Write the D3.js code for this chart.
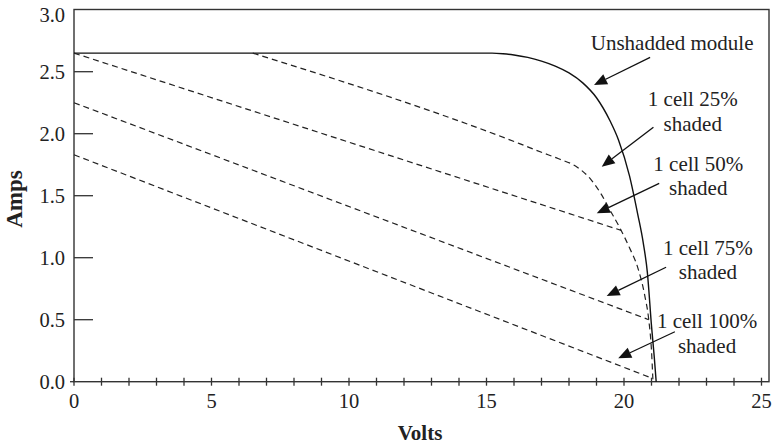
<!DOCTYPE html>
<html><head><meta charset="utf-8">
<script src="https://cdn.jsdelivr.net/npm/d3@7"></script>
<style>
html,body{margin:0;padding:0;background:#fff;}
svg text{font-family:"Liberation Serif","Times New Roman",serif;fill:#222;}
</style></head>
<body><svg id="c" width="773" height="445"></svg>
<script>
// ---- data ----
const xTickLabels = [0, 5, 10, 15, 20, 25];
const xMinorTicks = d3.range(0, 26, 1);
const yTickLabels = [0.0, 0.5, 1.0, 1.5, 2.0, 2.5, 3.0];
const unshaded = [[0,2.65],[15.2,2.65],[15.6,2.645],[16,2.635],[16.5,2.615],[17,2.585],[17.5,2.545],[18,2.49],[18.5,2.41],[19,2.29],[19.5,2.10],[19.8,1.95],[20.2,1.66],[20.5,1.35],[20.7,1.12],[20.85,0.88],[21.0,0.45],[21.1,0.2],[21.17,0]];
const shaded25 = [[6.5,2.65],[16.2,1.92],[17.0,1.85],[17.6,1.80],[18.3,1.73],[18.8,1.63],[19.15,1.52],[19.5,1.38],[19.85,1.24],[20.2,1.08],[20.5,0.92],[20.75,0.70],[20.9,0.50],[21.0,0.25],[21.05,0.02]];
const shaded50 = [[0,2.65],[19.9,1.22]];
const shaded75 = [[0,2.25],[20.9,0.50]];
const shaded100 = [[0,1.83],[21.0,0.03]];
const labels = [
  {lines:["Unshadded module"]},
  {lines:["1 cell 25%","shaded"]},
  {lines:["1 cell 50%","shaded"]},
  {lines:["1 cell 75%","shaded"]},
  {lines:["1 cell 100%","shaded"]}
];
// ---- layout (annotation placement, in data units) ----
const labelPos = [[21.75,2.674],[22.5,2.22],[22.7,1.70],[23.05,1.025],[23.02,0.43]];
const arrowFrom = [[20.95,2.616],[21.07,2.052],[21.28,1.60],[21.53,0.923],[21.85,0.403]];
const arrowTo = [[18.91,2.393],[19.19,1.734],[19.01,1.358],[19.37,0.691],[19.79,0.189]];

const svg = d3.select("#c");
const x = d3.scaleLinear().domain([0,25]).range([74,761.5]);
const y = d3.scaleLinear().domain([0,3]).range([381.7,9.7]);
const pLeft = 74, pRight = 769, pTop = 9.5, pBottom = 381.7;

// frame
svg.append("rect").attr("x",pLeft).attr("y",pTop).attr("width",pRight-pLeft).attr("height",pBottom-pTop)
  .attr("fill","none").attr("stroke","#333").attr("stroke-width",1.4);

// x ticks (crossing)
svg.append("g").selectAll("line").data(xMinorTicks).join("line")
  .attr("x1",d=>x(d)).attr("x2",d=>x(d)).attr("y1",pBottom-4).attr("y2",pBottom+4)
  .attr("stroke","#333").attr("stroke-width",1.3);
svg.append("g").selectAll("text").data(xTickLabels).join("text")
  .attr("x",d=>x(d)).attr("y",408).attr("text-anchor","middle").attr("font-size",20.5)
  .text(d=>d);

// y ticks (inward)
svg.append("g").selectAll("line").data(yTickLabels.filter(d=>d>0 && d<3)).join("line")
  .attr("x1",pLeft).attr("x2",pLeft+19).attr("y1",d=>y(d)).attr("y2",d=>y(d))
  .attr("stroke","#333").attr("stroke-width",1.3);
svg.append("line").attr("x1",pLeft-4).attr("x2",pLeft).attr("y1",y(0)).attr("y2",y(0))
  .attr("stroke","#333").attr("stroke-width",1.3);
svg.append("g").selectAll("text").data(yTickLabels).join("text")
  .attr("x",65).attr("y",d=>Math.max(y(d),15)).attr("dy","0.34em").attr("text-anchor","end").attr("font-size",20.5)
  .text(d=>d.toFixed(1));

// axis titles
svg.append("text").attr("x",420).attr("y",440).attr("text-anchor","middle")
  .attr("font-size",21).attr("font-weight","bold").text("Volts");
svg.append("text").attr("transform",`translate(22,199) rotate(-90)`).attr("text-anchor","middle")
  .attr("font-size",23).attr("font-weight","bold").text("Amps");

// curves
const line = d3.line().x(d=>x(d[0])).y(d=>y(d[1])).curve(d3.curveMonotoneX);
svg.append("path").datum(unshaded).attr("d",line).attr("fill","none").attr("stroke","#111").attr("stroke-width",1.4);
[shaded25, shaded50, shaded75, shaded100].forEach(s=>{
  svg.append("path").datum(s).attr("d",line).attr("fill","none").attr("stroke","#222")
    .attr("stroke-width",1.2).attr("stroke-dasharray","6,4");
});

// annotations
labels.forEach((l,i)=>{
  const t = svg.append("text").attr("text-anchor","middle").attr("font-size",21);
  l.lines.forEach((s,j)=>{
    t.append("tspan").attr("x",x(labelPos[i][0])).attr("y",y(labelPos[i][1])+j*24.5).text(s);
  });
  const x1=x(arrowFrom[i][0]), y1=y(arrowFrom[i][1]), x2=x(arrowTo[i][0]), y2=y(arrowTo[i][1]);
  const ang = Math.atan2(y2-y1,x2-x1), L=13, W=5.5;
  const bx = x2-L*Math.cos(ang), by = y2-L*Math.sin(ang);
  svg.append("line").attr("x1",x1).attr("y1",y1).attr("x2",bx).attr("y2",by).attr("stroke","#111").attr("stroke-width",1.3);
  const p = [[x2,y2],[bx+W*Math.sin(ang),by-W*Math.cos(ang)],[bx-W*Math.sin(ang),by+W*Math.cos(ang)]];
  svg.append("polygon").attr("points",p.map(q=>q.join(",")).join(" ")).attr("fill","#111");
});
</script></body></html>
